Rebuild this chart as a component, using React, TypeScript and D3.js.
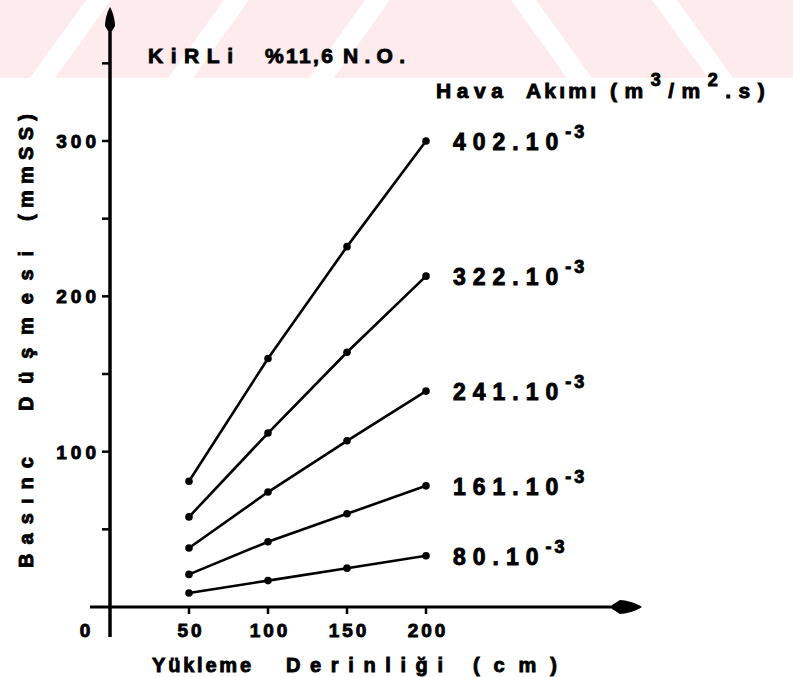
import React from "react";
import * as d3 from "d3";

// Bed depth (cm) on the horizontal axis
const depths = [50, 100, 150, 200];

// Air flow series (m3/m2.s, ×10^-3) and their pressure drops (mmSS)
const flowLabels = ["402", "322", "241", "161", "80"];
const drop402 = [81, 160, 232, 300];
const drop322 = [58, 112, 164, 213];
const drop241 = [38, 74, 107, 139];
const drop161 = [21, 42, 60, 78];
const drop80 = [9, 17, 25, 33];
const seriesValues = [drop402, drop322, drop241, drop161, drop80];

const yTickMinor = [50, 100, 150, 200, 250, 300, 350];
const yTickLabels = [100, 200, 300];
const xTickLabels = [50, 100, 150, 200];

const W = 793;
const H = 677;
const FONT = "'Liberation Sans', Arial, sans-serif";
const NARROW = "'Liberation Sans Narrow', 'Liberation Sans', Arial, sans-serif";

export default function App() {
  const x = d3.scaleLinear().domain([0, 200]).range([110, 426]);
  const y = d3.scaleLinear().domain([0, 300]).range([607, 141]);
  const line = d3
    .line<number>()
    .x((_, i) => x(depths[i]))
    .y((v) => y(v));

  const x0 = x(0);
  const y0 = y(0);

  // faint banded background across the top strip
  const bandH = 78;
  const slashBands = [30, 168, 309];
  const backBands = [511, 652];
  const bw = 25;
  const shift = 56;

  const ink = { fill: "#000", stroke: "#000", strokeWidth: 0.9 } as const;

  return (
    <svg
      width={W}
      height={H}
      style={{ position: "absolute", left: 0, top: 0, background: "#fff" }}
      fontFamily={FONT}
      fontWeight="bold"
    >
      <rect x={0} y={0} width={W} height={bandH} fill="#fdebee" />
      {slashBands.map((b, i) => (
        <polygon
          key={"s" + i}
          points={`${b},${bandH} ${b + bw},${bandH} ${b + bw + shift},0 ${b + shift},0`}
          fill="#fff"
        />
      ))}
      {backBands.map((b, i) => (
        <polygon
          key={"b" + i}
          points={`${b},0 ${b + bw},0 ${b + bw + shift},${bandH} ${b + shift},${bandH}`}
          fill="#fff"
        />
      ))}

      {/* axes */}
      <line x1={x0} y1={y(0) + 30} x2={x0} y2={24} stroke="#000" strokeWidth={3.5} />
      <path
        d={`M${x0},7 C${x0 + 3},12 ${x0 + 5},20 ${x0 + 5},26 L${x0 + 2},31 L${x0 - 2},31 L${x0 - 5},26 C${x0 - 5},20 ${x0 - 3},12 ${x0},7 Z`}
        fill="#000"
      />
      <line x1={90} y1={y0} x2={620} y2={y0} stroke="#000" strokeWidth={3} />
      <path
        d={`M642,${y0} C636,${y0 - 4} 626,${y0 - 7} 620,${y0 - 7} L612,${y0 - 2} L612,${y0 + 2} L620,${y0 + 7} C626,${y0 + 7} 636,${y0 + 4} 642,${y0} Z`}
        fill="#000"
      />

      {yTickMinor.map((t) => (
        <line key={"yt" + t} x1={x0 - 8} x2={x0} y1={y(t)} y2={y(t)} stroke="#000" strokeWidth={2.5} />
      ))}
      {xTickLabels.map((t) => (
        <line key={"xt" + t} x1={x(t)} x2={x(t)} y1={y0} y2={y0 + 7} stroke="#000" strokeWidth={2.5} />
      ))}

      {yTickLabels.map((t) => (
        <text key={"yl" + t} x={100} y={y(t) + 7} fontSize={19} textAnchor="end" letterSpacing={4} {...ink}>
          {t}
        </text>
      ))}
      {xTickLabels.map((t) => (
        <text key={"xl" + t} x={x(t) + 2} y={y0 + 30} fontSize={19} textAnchor="middle" letterSpacing={3} {...ink}>
          {t}
        </text>
      ))}
      <text x={85} y={y0 + 30} fontSize={19} textAnchor="middle" {...ink}>
        0
      </text>

      {/* series */}
      {seriesValues.map((vals, si) => (
        <g key={"s" + si}>
          <path d={line(vals) || ""} fill="none" stroke="#000" strokeWidth={2.6} />
          {vals.map((v, i) => (
            <circle key={i} cx={x(depths[i])} cy={y(v)} r={3.8} fill="#000" />
          ))}
          <text x={x(200) + 27} y={y(vals[vals.length - 1]) + 9} fontSize={23} letterSpacing={7} {...ink}>
            {flowLabels[si] + ".10"}
            <tspan dy={-12} fontSize={18} letterSpacing={3}>
              -3
            </tspan>
          </text>
        </g>
      ))}

      <g fontFamily={NARROW}>
        {/* title */}
        <text x={148} y={63} fontSize={21} textLength={85} lengthAdjust="spacing" {...ink}>
          KiRLi
        </text>
        <text x={265} y={63} fontSize={21} textLength={68} lengthAdjust="spacing" {...ink}>
          %11,6
        </text>
        <text x={343} y={63} fontSize={21} textLength={62} lengthAdjust="spacing" {...ink}>
          N.O.
        </text>

        {/* air flow heading */}
        <text x={436} y={98} fontSize={21} textLength={67} lengthAdjust="spacing" {...ink}>
          Hava
        </text>
        <text x={526} y={98} fontSize={21} textLength={70} lengthAdjust="spacing" {...ink}>
          Akımı
        </text>
        <text x={610} y={98} fontSize={21} letterSpacing={7.5} {...ink}>
          (m
          <tspan dy={-12} fontSize={18}>
            3
          </tspan>
          <tspan dy={12}>/m</tspan>
          <tspan dy={-12} fontSize={18}>
            2
          </tspan>
          <tspan dy={12}>.s)</tspan>
        </text>

        {/* axis titles */}
        <text x={152} y={672} fontSize={20} textLength={99} lengthAdjust="spacing" {...ink}>
          Yükleme
        </text>
        <text x={286} y={672} fontSize={20} textLength={157} lengthAdjust="spacing" {...ink}>
          Derinliği
        </text>
        <text x={473} y={672} fontSize={20} textLength={84} lengthAdjust="spacing" {...ink}>
          (cm)
        </text>

        <text transform="translate(33,568) rotate(-90)" fontSize={20} textLength={111} lengthAdjust="spacing" {...ink}>
          Basınc
        </text>
        <text transform="translate(33,411) rotate(-90)" fontSize={20} textLength={160} lengthAdjust="spacing" {...ink}>
          Düşmesi
        </text>
        <text transform="translate(33,221) rotate(-90)" fontSize={20} textLength={107} lengthAdjust="spacing" {...ink}>
          (mmSS)
        </text>
      </g>
    </svg>
  );
}
